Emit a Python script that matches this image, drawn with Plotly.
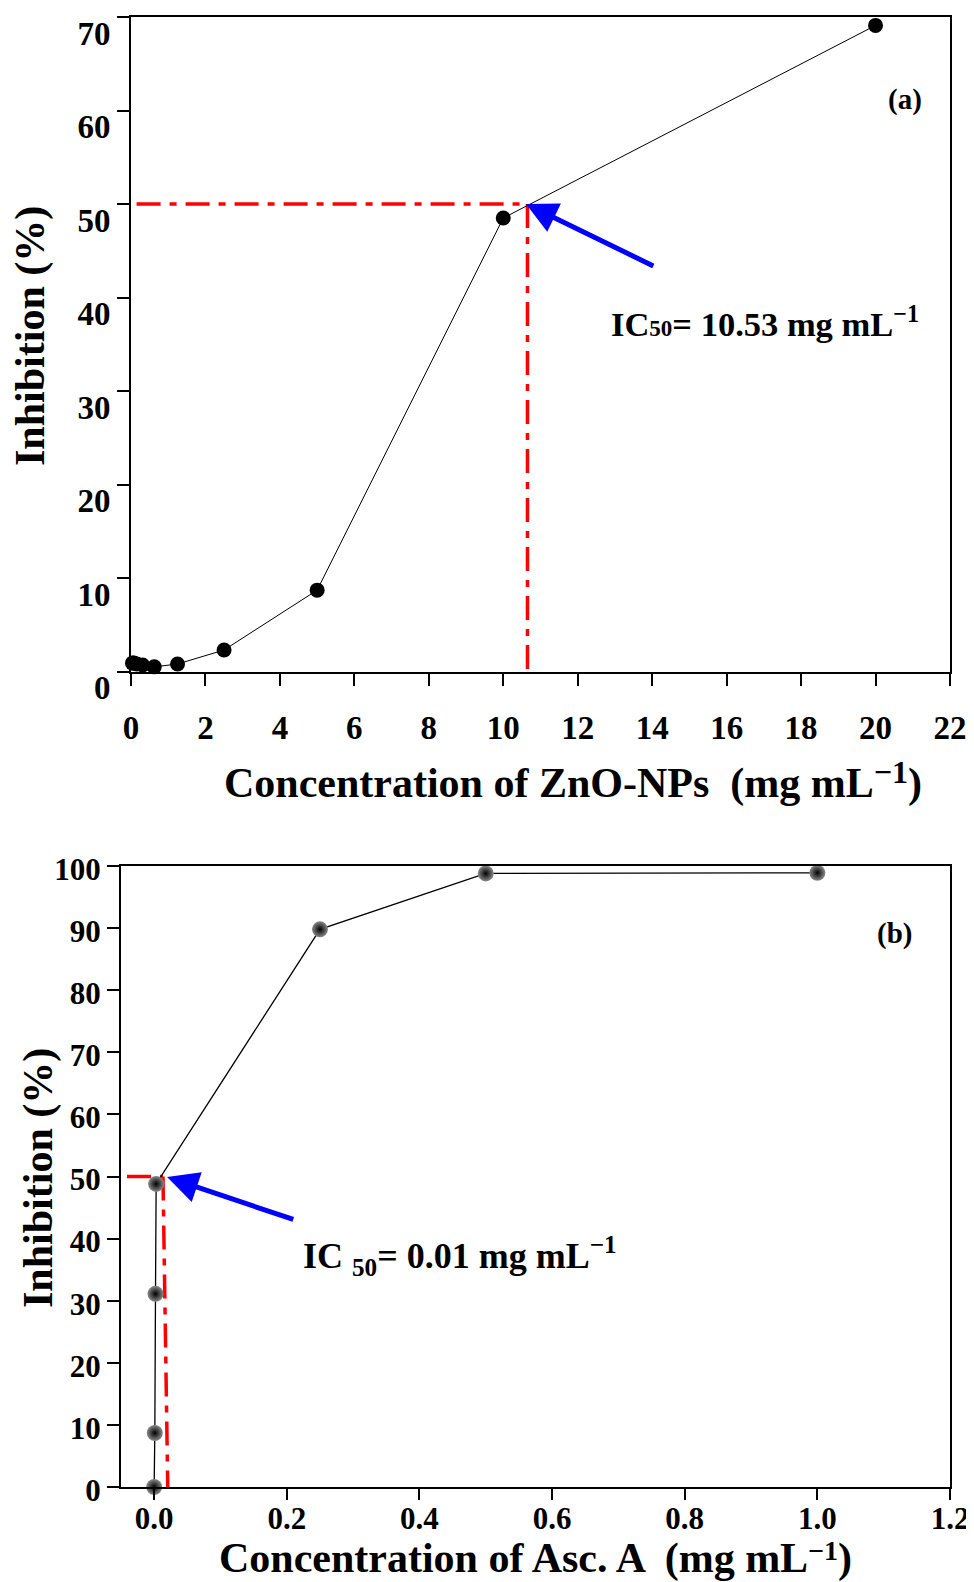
import plotly.graph_objects as go

# ---------------- data ----------------
zno_conc = [0.039, 0.078, 0.156, 0.3125, 0.625, 1.25, 2.5, 5, 10, 20]
zno_inhib = [0.9, 0.9, 0.8, 0.7, 0.5, 0.8, 2.3, 8.7, 48.5, 69.1]

asc_conc = [0.0, 0.001, 0.002, 0.003, 0.25, 0.5, 1.0]
asc_inhib = [0.0, 8.7, 31.1, 48.8, 89.8, 98.8, 98.9]

zno_ic_h_x = [0.15, 10.65]
zno_ic_h_y = [50, 50]
zno_ic_v_x = [10.65, 10.65]
zno_ic_v_y = [50, 0]

asc_ic_h_x = [-0.041, 0.0135]
asc_ic_h_y = [50, 50]
asc_ic_v_x = [0.0133, 0.0205]
asc_ic_v_y = [50, 0]

xticks_a = list(range(0, 23, 2))
yticks_a = list(range(0, 71, 10))
xticks_b = [0.0, 0.2, 0.4, 0.6, 0.8, 1.0, 1.2]
xticklabels_b = ["0.0", "0.2", "0.4", "0.6", "0.8", "1.0", "1.2"]
yticks_b = list(range(0, 101, 10))

# page is 974x1582; the figure div sits 8px in from the page corner
OFF = 8
W, H = 974 - OFF, 1582 - OFF
FONT = "Liberation Serif"

def px_x(p):
    return (p - OFF) / W

def px_y(p):
    return 1 - (p - OFF) / H

fig = go.Figure()

red_dash = "24px,9px,7px,9px"

# panel (a)
fig.add_trace(go.Scatter(x=zno_ic_h_x, y=zno_ic_h_y, mode="lines",
                         line=dict(color="#ff0000", width=3.5, dash=red_dash),
                         xaxis="x", yaxis="y", showlegend=False))
fig.add_trace(go.Scatter(x=zno_ic_v_x, y=zno_ic_v_y, mode="lines",
                         line=dict(color="#ff0000", width=3.5, dash=red_dash),
                         xaxis="x", yaxis="y", showlegend=False))
fig.add_trace(go.Scatter(x=zno_conc, y=zno_inhib, mode="lines+markers",
                         line=dict(color="black", width=1),
                         marker=dict(color="black", size=15),
                         xaxis="x", yaxis="y", showlegend=False, cliponaxis=False))

# panel (b)
fig.add_trace(go.Scatter(x=asc_ic_h_x, y=asc_ic_h_y, mode="lines",
                         line=dict(color="#ff0000", width=3.5, dash=red_dash),
                         xaxis="x2", yaxis="y2", showlegend=False))
fig.add_trace(go.Scatter(x=asc_ic_v_x, y=asc_ic_v_y, mode="lines",
                         line=dict(color="#ff0000", width=3.5, dash=red_dash),
                         xaxis="x2", yaxis="y2", showlegend=False))
fig.add_trace(go.Scatter(x=asc_conc, y=asc_inhib, mode="lines+markers",
                         line=dict(color="black", width=1.3),
                         marker=dict(color="#8a8a8a", size=16,
                                     line=dict(width=0),
                                     gradient=dict(type="radial", color="black")),
                         xaxis="x2", yaxis="y2", showlegend=False, cliponaxis=False))

axis_common = dict(showline=True, linecolor="black", linewidth=2, mirror=True,
                   ticks="outside", ticklen=12, tickwidth=2, tickcolor="black",
                   showgrid=False, zeroline=False, automargin=False,
                   tickfont=dict(family=FONT, size=33, color="black", weight="bold"))

fig.update_layout(
    width=W, height=H,
    margin=dict(l=0, r=0, t=0, b=0, autoexpand=False),
    plot_bgcolor="white", paper_bgcolor="white",
    xaxis=dict(axis_common, domain=[px_x(131), px_x(950)], range=[0, 22],
               tickvals=xticks_a, anchor="y", ticklabelstandoff=14),
    yaxis=dict(axis_common, domain=[px_y(671.5), px_y(17)], range=[0, 70],
               tickvals=yticks_a, anchor="x", ticklabelshift=16),
    xaxis2=dict(axis_common, domain=[px_x(121), px_x(950)], range=[-0.05, 1.2],
                tickvals=xticks_b, ticktext=xticklabels_b, anchor="y2",
                ticklen=11, ticklabelstandoff=-8,
                tickfont=dict(family=FONT, size=31, color="black", weight="bold")),
    yaxis2=dict(axis_common, domain=[px_y(1487), px_y(866)], range=[0, 100],
                tickvals=yticks_b, anchor="x2", ticklabelshift=3,
                tickfont=dict(family=FONT, size=31, color="black", weight="bold")),
)

title_font = dict(family=FONT, size=42, color="black", weight="bold")

annotations = [
    # axis titles
    dict(text="Concentration of ZnO-NPs  (mg mL<span style='font-size:32px;baseline-shift:14px'>−1</span>)",
         xref="paper", yref="paper",
         x=px_x(573), y=px_y(781), xanchor="center", yanchor="middle",
         showarrow=False, font=title_font),
    dict(text="Inhibition (%)", xref="paper", yref="paper", textangle=-90,
         x=px_x(30), y=px_y(336), xanchor="center", yanchor="middle",
         showarrow=False, font=title_font),
    dict(text="Concentration of Asc. A  (mg mL<span style='font-size:28px;baseline-shift:12px'>−1</span>)",
         xref="paper", yref="paper",
         x=px_x(535), y=px_y(1558), xanchor="center", yanchor="middle",
         showarrow=False, font=title_font),
    dict(text="Inhibition (%)", xref="paper", yref="paper", textangle=-90,
         x=px_x(38), y=px_y(1178), xanchor="center", yanchor="middle",
         showarrow=False, font=title_font),
    # panel labels
    dict(text="(a)", xref="x", yref="y", x=20.79, y=61.2, showarrow=False,
         font=dict(family=FONT, size=29, color="black", weight="bold")),
    dict(text="(b)", xref="x2", yref="y2", x=1.117, y=89.2, showarrow=False,
         font=dict(family=FONT, size=29, color="black", weight="bold")),
    # IC50 text
    dict(text="IC<span style='font-size:23px'>50</span>= 10.53 mg mL<sup>−1</sup>",
         xref="x", yref="y", x=12.85, y=37.4, xanchor="left", yanchor="middle",
         showarrow=False, font=dict(family=FONT, size=34.5, color="black", weight="bold")),
    dict(text="IC <sub>50</sub>= 0.01 mg mL<sup>−1</sup>",
         xref="x2", yref="y2", x=0.222, y=37.2, xanchor="left", yanchor="middle",
         showarrow=False, font=dict(family=FONT, size=36, color="black", weight="bold")),
    # arrows
    dict(x=10.61, y=50, ax=14.07, ay=43.3, xref="x", yref="y", axref="x", ayref="y",
         text="", showarrow=True, arrowhead=2, arrowsize=1.25, arrowwidth=5, arrowcolor="#0000ff"),
    dict(x=0.0195, y=49.9, ax=0.212, ay=43.0, xref="x2", yref="y2", axref="x2", ayref="y2",
         text="", showarrow=True, arrowhead=2, arrowsize=1.25, arrowwidth=5, arrowcolor="#0000ff"),
]
fig.update_layout(annotations=annotations)

fig.write_html("out.html")
